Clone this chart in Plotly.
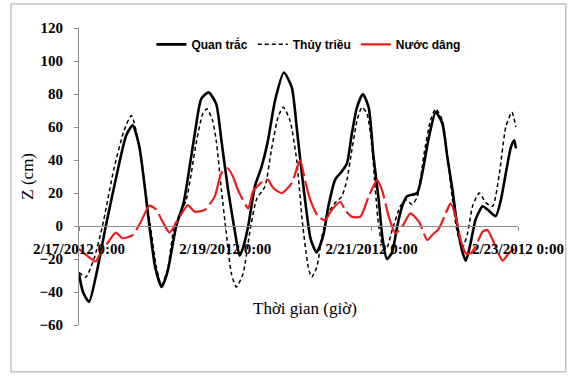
import pandas as pd
import plotly.graph_objects as go

START = pd.Timestamp("2012-02-17 00:00")

# Observed water level (hours since start, cm)
obs_hours = [0.0, 1.3, 3.3, 5.6, 8.8, 13.2, 15.5, 17.6, 19.8, 23.1, 25.0, 27.1, 29.0, 31.9,
             34.3, 37.9, 40.1, 42.5, 45.0, 46.7, 48.9, 51.1, 52.7, 54.0, 55.5, 57.7, 59.9,
             62.0, 64.3, 67.2, 69.8, 71.4, 72.7, 74.4, 76.0, 77.9, 80.1, 81.8, 84.0, 86.2,
             87.9, 89.5, 91.2, 93.1, 95.0, 96.6, 98.3, 99.6, 101.0, 102.7, 104.4, 106.0,
             107.6, 110.9, 112.6, 114.8, 117.0, 119.2, 120.8, 122.5, 124.1, 125.8, 126.9,
             128.5, 130.1, 132.4, 134.0, 136.7, 138.4, 140.0, 141.7, 142.8, 143.3]
obs_cm = [-29, -40, -46, -30, 0, 38, 55, 61, 48, 0, -25, -37, -28, 0,
          14, 55, 77, 81, 74, 52, 22, -3, -18, -12, 0, 24, 36,
          52, 76, 93, 84, 60, 38, 12, -8, -16, -6, 12, 28, 33,
          38, 56, 72, 80, 72, 42, 16, -8, -20, -16, 0, 12,
          18, 20, 32, 54, 69, 62, 42, 22, 0, -16, -21,
          -10, 4, 12, 10, 6, 16, 32, 48, 52, 47]

# Astronomical tide (hours since start, cm)
tide_hours = [0.0, 2.2, 4.9, 7.7, 11.5, 14.8, 17.2, 19.4, 23.4, 25.4, 27.0, 29.0, 31.3,
              35.2, 38.4, 40.6, 42.0, 43.8, 45.0, 46.7, 48.3, 50.0, 51.6, 53.8, 56.0,
              58.2, 61.0, 63.1, 65.3, 67.0, 69.2, 71.4, 73.3, 75.2, 76.3, 78.0, 79.7,
              81.8, 84.0, 86.2, 87.9, 89.5, 91.2, 92.8, 94.5, 96.1, 97.2, 98.3, 99.6,
              100.8, 102.8, 105.4, 107.1, 109.3, 111.0, 113.2, 115.3, 117.0, 119.2,
              120.8, 122.5, 124.1, 125.8, 127.5, 129.1, 131.3, 133.5, 135.7, 137.9,
              140.0, 142.0, 143.3]
tide_cm = [-28, -31, -20, 0, 35, 58, 67, 52, 0, -25, -36, -27, 0,
           16, 50, 68, 71, 64, 52, 22, -4, -29, -37, -29, -4,
           16, 24, 46, 66, 72, 64, 40, 2, -25, -31, -25, -6,
           8, 14, 18, 28, 46, 64, 72, 68, 48, 22, 0, -12,
           -14, -2, 12, 16, 13, 18, 44, 64, 71, 64,
           44, 16, -4, -13, -4, 12, 20, 14, 12, 32,
           60, 69, 60]

# Storm surge (hours since start, cm)
surge_hours = [0.0, 2.6, 5.5, 6.9, 9.3, 12.1, 14.3, 17.6, 20.3, 23.1, 25.3, 27.3, 29.7,
               32.4, 35.7, 37.9, 41.2, 44.5, 46.7, 48.7, 50.5, 52.1, 55.5, 57.1, 60.9,
               62.0, 63.7, 66.5, 69.8, 72.5, 74.1, 75.8, 78.5, 80.7, 82.9, 85.7, 87.3,
               89.5, 92.3, 95.0, 97.8, 99.4, 101.6, 103.8, 106.0, 108.7, 111.5, 113.1,
               114.2, 115.9, 118.1, 120.3, 121.9, 123.6, 125.2, 126.9, 128.5, 130.1,
               132.4, 134.0, 135.7, 137.9, 139.0, 141.2, 142.8]
surge_cm = [-14, -18, -21.5, -17, -10.5, -4, -7.4, -5.5, 2.6, 12.3, 10, 3, -4,
            3.6, 12.7, 8.7, 9.7, 17.8, 32, 35, 30, 22, 10.7, 21, 28,
            28, 23, 20, 26, 40, 28, 16, 5.6, 3.6, 9.7, 14.7, 9.7,
            5.6, 5.6, 17.8, 28, 21.8, 5.6, -4.4, -0.4, 7.7, 2.6, -4.4,
            -8.5, -5.5, -1.4, 7.7, 13.7, 5.6, -8.5, -16.5, -16.5, -12.5,
            -3.4, -2.4, -8.5, -18, -21, -16, -14]

series_names = ["Quan trắc", "Thủy triều", "Nước dâng"]
tick_dates = ["2012-02-17", "2012-02-19", "2012-02-21", "2012-02-23"]
y_ticks = list(range(-60, 121, 20))


def to_time(hours):
    return START + pd.to_timedelta(hours, unit="h")


AXIS_GREY = "#8c8c8c"
TICK_FONT = dict(family="Liberation Serif, Times New Roman, serif", size=15,
                 color="black", weight="bold")

fig = go.Figure()
fig.add_trace(go.Scatter(x=to_time(obs_hours), y=obs_cm, mode="lines",
                         name=series_names[0],
                         line=dict(color="black", width=2.6, shape="spline", smoothing=0.6)))
fig.add_trace(go.Scatter(x=to_time(tide_hours), y=tide_cm, mode="lines",
                         name=series_names[1],
                         line=dict(color="black", width=1.5, dash="4px,3px",
                                   shape="spline", smoothing=0.6)))
fig.add_trace(go.Scatter(x=to_time(surge_hours), y=surge_cm, mode="lines",
                         name=series_names[2],
                         line=dict(color="#ee1c1c", width=2.2, dash="36px,5px",
                                   shape="spline", smoothing=0.6)))

fig.update_layout(
    width=571, height=381,
    margin=dict(l=79, r=53, t=28, b=56),
    paper_bgcolor="white", plot_bgcolor="white",
    showlegend=True,
    legend=dict(orientation="h", x=0.165, y=0.945, xanchor="left", yanchor="middle",
                bgcolor="rgba(0,0,0,0)", tracegroupgap=0, itemwidth=30,
                font=dict(family="Liberation Sans Narrow, Arial Narrow, Liberation Sans, sans-serif",
                          size=12, color="black", weight="bold")),
    xaxis=dict(type="date",
               range=[START, START + pd.Timedelta(days=6)],
               tickvals=pd.to_datetime(tick_dates),
               tickformat="%-m/%-d/%Y %-H:%M",
               anchor="free", position=60 / 180,
               showline=True, linecolor=AXIS_GREY, linewidth=1,
               ticks="outside", ticklen=4, tickcolor=AXIS_GREY,
               ticklabelstandoff=5,
               showgrid=False, zeroline=False, automargin=False,
               tickfont=TICK_FONT),
    yaxis=dict(range=[-60, 120], tickvals=y_ticks,
               showline=True, linecolor=AXIS_GREY, linewidth=1,
               ticks="outside", ticklen=4, tickcolor=AXIS_GREY,
               ticklabelstandoff=8,
               showgrid=False, zeroline=False, automargin=False,
               tickfont=TICK_FONT),
    annotations=[
        dict(text="Thời gian (giờ)", xref="paper", yref="paper", x=0.515, y=0.054,
             xanchor="center", yanchor="middle", showarrow=False,
             font=dict(family="Liberation Serif, Times New Roman, serif", size=17, color="black")),
        dict(text="Z (cm)", xref="paper", yref="paper", x=-0.118, y=0.50, textangle=-90,
             xanchor="center", yanchor="middle", showarrow=False,
             font=dict(family="Liberation Serif, Times New Roman, serif", size=17, color="black")),
    ],
    shapes=[dict(type="rect", xref="paper", yref="paper",
                 x0=-0.155, x1=1.109, y0=-0.158, y1=1.081,
                 line=dict(color="#a6a6a6", width=1), layer="below")],
)

fig.write_html("out.html")
